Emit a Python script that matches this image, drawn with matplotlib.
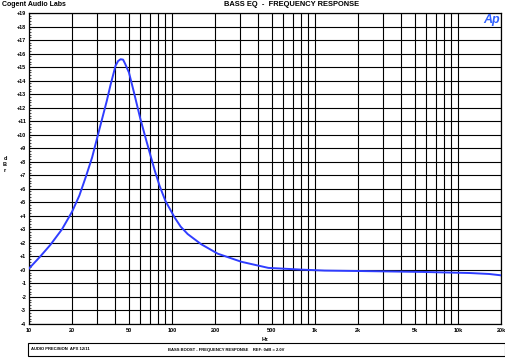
import matplotlib
matplotlib.use("Agg")
import matplotlib.pyplot as plt
from matplotlib.patches import Rectangle
from matplotlib.ticker import FixedLocator, MultipleLocator, NullFormatter

plt.rcParams['font.family'] = ['Liberation Sans', 'DejaVu Sans']

# response (Hz, dBr)
freq = [10, 12, 14.1, 17, 20, 22.5, 25, 27.6, 31.6, 35, 37.2, 40.3, 42, 43.7, 45.5,
        47, 50, 54, 60, 66, 71, 76, 82, 90, 104, 115, 128.8, 160, 209, 306, 472, 809,
        1170, 2000, 5700, 12100, 16500, 20000]
level = [0.1, 1.0, 1.85, 3.0, 4.3, 5.5, 6.9, 8.3, 10.7, 12.5, 13.7, 15.1, 15.45, 15.58, 15.55,
         15.25, 14.6, 13.2, 11.2, 9.6, 8.4, 7.3, 6.2, 5.1, 3.9, 3.2, 2.65, 1.9, 1.2, 0.6, 0.15, 0.02,
         -0.05, -0.08, -0.15, -0.23, -0.3, -0.4]

xticks = [10, 20, 50, 100, 200, 500, 1000, 2000, 5000, 10000, 20000]
xticklabels = ['10', '20', '50', '100', '200', '500', '1k', '2k', '5k', '10k', '20k']
ymin, ymax = -4, 19

fig = plt.figure(figsize=(5.06, 3.59), dpi=100)
ax = fig.add_axes([29 / 506, 1 - 324 / 359, 472 / 506, 311 / 359])

ax.semilogx(freq, level, color='#2f3dff', lw=1.4, zorder=3)
ax.set_xlim(10, 20000)
ax.set_ylim(ymin, ymax)

# vertical grid at every 1..9 of each decade
grid_x = [m * 10 ** d for d in range(1, 5) for m in range(1, 10) if m * 10 ** d <= 20000]
for gx in grid_x:
    ax.axvline(gx, color='black', lw=0.8, zorder=1)
for gy in range(ymin, ymax + 1):
    ax.axhline(gy, color='black', lw=0.8, zorder=1)

ax.xaxis.set_major_locator(FixedLocator(xticks))
ax.set_xticklabels(xticklabels)
ax.xaxis.set_minor_formatter(NullFormatter())
ax.tick_params(axis='x', which='both', length=0, labelsize=4, pad=3)
for t in ax.get_xticklabels():
    t.set_fontweight('bold')

yticks = list(range(ymin, ymax + 1))
ax.set_yticks(yticks)
ax.set_yticklabels(['+%d' % v if v >= 0 else '%d' % v for v in yticks])
ax.yaxis.set_minor_locator(MultipleLocator(0.2))
ax.tick_params(axis='y', which='major', direction='in', length=3, width=0.6, labelsize=4, pad=2)
ax.tick_params(axis='y', which='minor', direction='in', length=1.5, width=0.5)
for t in ax.get_yticklabels():
    t.set_fontweight('bold')

for s in ax.spines.values():
    s.set_linewidth(0.9)

ax.set_xlabel('Hz', fontsize=4, fontweight='bold', labelpad=3)
for i, ch in enumerate(['d', 'B', 'r']):
    fig.text(5 / 506, 1 - (159 + 6 * i) / 359, ch, fontsize=4, fontweight='bold',
             ha='center', va='center')

fig.text(2 / 506, 1 - 5 / 359, 'Cogent Audio Labs', fontsize=5, fontweight='bold',
         ha='left', va='center')
fig.text(292 / 506, 1 - 5 / 359, 'BASS EQ  -  FREQUENCY RESPONSE', fontsize=5.4,
         fontweight='bold', ha='center', va='center')
fig.text(492 / 506, 1 - 20 / 359, 'Ap', fontsize=9, fontweight='bold', style='italic',
         color='#2f5fff', ha='center', va='center')

fig.patches.append(Rectangle((28 / 506, 3 / 359), 477 / 506, 13 / 359,
                             transform=fig.transFigure, fill=False, lw=0.8,
                             edgecolor='black'))
fig.text(31 / 506, 1 - 349.5 / 359, 'AUDIO PRECISION  APX 12/11', fontsize=3,
         fontweight='bold', ha='left', va='center')
fig.text(168 / 506, 1 - 349.5 / 359, 'BASS BOOST - FREQUENCY RESPONSE    REF: 0dB = 2.0V',
         fontsize=3, fontweight='bold', ha='left', va='center')

fig.savefig('out.png', dpi=100)
